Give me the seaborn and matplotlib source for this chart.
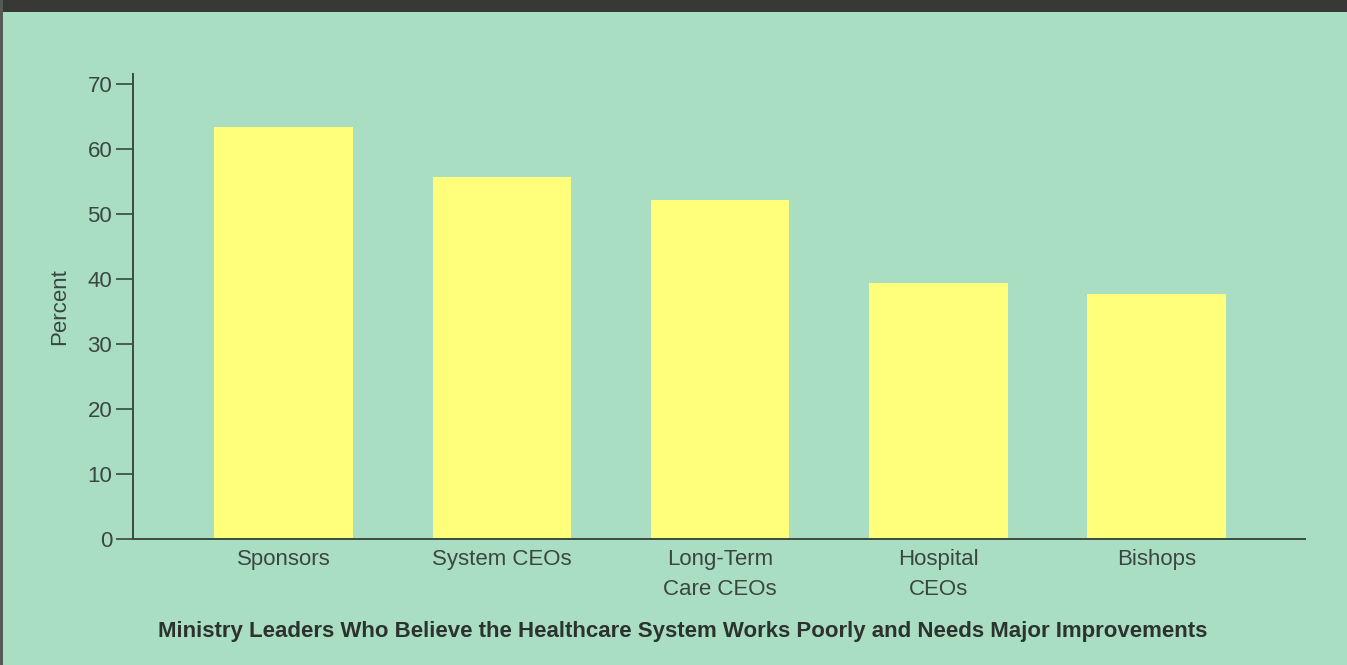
import matplotlib
matplotlib.use("Agg")
import matplotlib.pyplot as plt
import seaborn as sns
import pandas as pd
from matplotlib.patches import Rectangle

categories = ["Sponsors", "System CEOs", "Long-Term\nCare CEOs", "Hospital\nCEOs", "Bishops"]
percent = [63.3, 55.6, 52.2, 39.3, 37.7]
yticks = [0, 10, 20, 30, 40, 50, 60, 70]
title = "Ministry Leaders Who Believe the Healthcare System Works Poorly and Needs Major Improvements"

BG = "#aadec3"
BAR = "#ffff7c"
TXT = "#3b4640"

sns.set_style("white")
plt.rcParams["font.family"] = ["Liberation Sans", "DejaVu Sans"]

df = pd.DataFrame({"group": categories, "pct": percent})

fig = plt.figure(figsize=(13.47, 6.65), dpi=100, facecolor=BG)
ax = fig.add_axes([133/1347, 1-539/665, (1305-133)/1347, (539-74)/665])
ax.set_facecolor(BG)

sns.barplot(data=df, x="group", y="pct", color=BAR, saturation=1, width=0.635,
            linewidth=0, edgecolor="none", ax=ax)

ax.set_xlim(-0.69, 4.68)
ax.set_ylim(0, 71.5)
ax.set_yticks(yticks)
ax.tick_params(axis="y", direction="out", length=12, width=1.2, color=TXT,
               labelsize=16, labelcolor=TXT, pad=3, left=True)
ax.tick_params(axis="x", length=0, labelsize=16, labelcolor=TXT, pad=7)
for lbl in ax.get_xticklabels():
    lbl.set_linespacing(1.55)
ax.set_xlabel("")
ax.set_ylabel("Percent", fontsize=16, color=TXT, labelpad=12)

for s in ["top", "right"]:
    ax.spines[s].set_visible(False)
for s in ["left", "bottom"]:
    ax.spines[s].set_color("#3a4a42")
    ax.spines[s].set_linewidth(1.4)

fig.text(682.5/1347, 1-632/665, title, ha="center", va="center",
         fontsize=16, fontweight="bold", color="#2c332f")

# dark band at top and thin edge frame
fig.patches.append(Rectangle((0, 1-12/665), 1, 12/665, transform=fig.transFigure,
                             facecolor="#383837", edgecolor="none", zorder=0))
fig.patches.append(Rectangle((0, 0), 3/1347, 1, transform=fig.transFigure,
                             facecolor="#555a57", edgecolor="none", zorder=0))

fig.savefig("out.png", dpi=100, facecolor=BG)
